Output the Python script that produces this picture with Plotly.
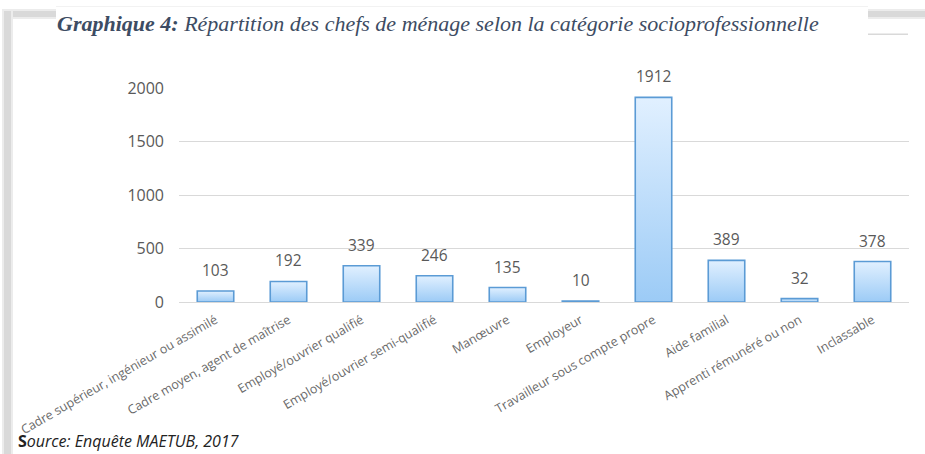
import plotly.graph_objects as go

# Catégories socioprofessionnelles et effectifs des chefs de ménage
categories = [
    "Cadre supérieur, ingénieur ou assimilé",
    "Cadre moyen, agent de maîtrise",
    "Employé/ouvrier qualifié",
    "Employé/ouvrier semi-qualifié",
    "Manœuvre",
    "Employeur",
    "Travailleur sous compte propre",
    "Aide familial",
    "Apprenti rémunéré ou non",
    "Inclassable",
]
effectifs = [103, 192, 339, 246, 135, 10, 1912, 389, 32, 378]
y_ticks = [0, 500, 1000, 1500, 2000]

W, H = 925, 454
M_L, M_R, M_T, M_B = 179, 16, 88, 152
PW, PH = W - M_L - M_R, H - M_T - M_B

def px_x(p):
    return (p - M_L) / PW

def px_y(p):
    return (H - M_B - p) / PH

GRAY = "#595959"
HALF = 0.25  # demi-largeur des barres (en unités de catégorie)

fig = go.Figure()

# Barres avec dégradé vertical clair -> bleu
for i, v in enumerate(effectifs):
    fig.add_trace(go.Scatter(
        x=[i - HALF, i - HALF, i + HALF, i + HALF, i - HALF],
        y=[0, v, v, 0, 0],
        mode="lines",
        fill="toself",
        fillgradient=dict(type="vertical",
                          colorscale=[[0, "#9ccbf6"], [1, "#e1f0ff"]]),
        line=dict(color="#5b9bd5", width=1.6),
        showlegend=False,
        hoverinfo="skip",
    ))

# Étiquettes de valeurs
for i, v in enumerate(effectifs):
    fig.add_annotation(
        x=i, y=v, text=str(v), showarrow=False,
        yanchor="bottom", yshift=8,
        font=dict(family="Open Sans", size=15.5, color=GRAY),
    )

# Cadre ombré autour du graphique
shapes = [
    dict(x0=px_x(3), x1=px_x(W), y0=px_y(9), y1=px_y(19), fillcolor="#ececec"),
    dict(x0=px_x(3), x1=px_x(W), y0=px_y(11), y1=px_y(17), fillcolor="#d9d9d9"),
    dict(x0=px_x(2), x1=px_x(13), y0=px_y(9), y1=px_y(H), fillcolor="#ececec"),
    dict(x0=px_x(4), x1=px_x(11), y0=px_y(11), y1=px_y(H), fillcolor="#d9d9d9"),
    dict(x0=px_x(13), x1=px_x(W), y0=px_y(19), y1=px_y(H), fillcolor="white"),
    dict(x0=px_x(56), x1=px_x(868), y0=px_y(6), y1=px_y(46), fillcolor="white"),
    dict(x0=px_x(868), x1=px_x(908), y0=px_y(33.5), y1=px_y(35), fillcolor="#d9d9d9"),
]
for s in shapes:
    fig.add_shape(type="rect", xref="paper", yref="paper",
                  line=dict(width=0), layer="below", **s)
fig.add_shape(type="line", xref="paper", yref="paper",
              x0=px_x(56), x1=px_x(868), y0=px_y(6.5), y1=px_y(6.5),
              line=dict(color="#f2f2f2", width=1), layer="below")

# Source
fig.add_annotation(
    xref="paper", yref="paper", x=px_x(16), y=px_y(454),
    xanchor="left", yanchor="bottom", showarrow=False,
    text="<b>S</b><i>ource: Enquête MAETUB, 2017</i>",
    font=dict(family="Open Sans", size=16, color="#222222"),
)

fig.update_layout(
    width=W, height=H,
    margin=dict(l=M_L, r=M_R, t=M_T, b=M_B),
    paper_bgcolor="white", plot_bgcolor="white",
    title=dict(
        text="<i><b>Graphique 4:</b> Répartition des chefs de ménage selon la catégorie socioprofessionnelle</i>",
        xref="container", yref="container",
        x=57 / W, xanchor="left", y=1 - 23 / H, yanchor="middle",
        font=dict(family="Liberation Serif", size=22, color="#3d4c63"),
    ),
    xaxis=dict(
        range=[-0.5, len(categories) - 0.5],
        tickmode="array", tickvals=list(range(len(categories))),
        ticktext=categories, tickangle=-30,
        showgrid=False, zeroline=False,
        showline=True, linecolor="#d9d9d9", linewidth=1,
        ticks="", ticklabelstandoff=5,
        tickfont=dict(family="Open Sans", size=12.5, color="#6a6a6a"),
        fixedrange=True,
    ),
    yaxis=dict(
        range=[0, 2000], tickmode="array", tickvals=y_ticks,
        showgrid=True, gridcolor="#d9d9d9", gridwidth=1,
        zeroline=False, showline=False, ticks="",
        ticklabelstandoff=14,
        tickfont=dict(family="Open Sans", size=16, color=GRAY),
        fixedrange=True,
    ),
)

fig.write_html("out.html")
